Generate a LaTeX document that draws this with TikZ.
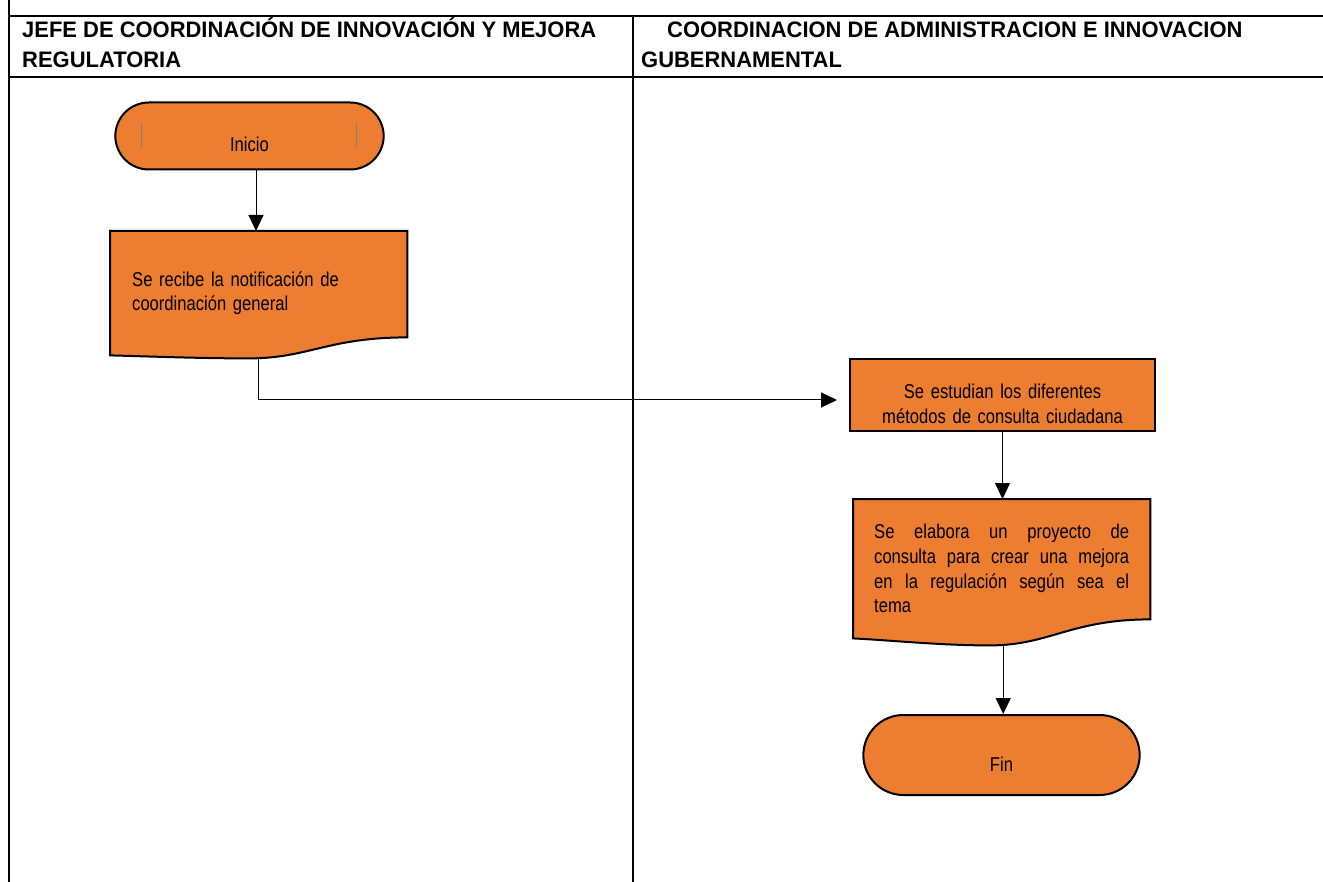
\documentclass[tikz,border=0pt]{standalone}
\usepackage{fontspec}
\setmainfont[FakeStretch=0.83]{Liberation Sans}
\newfontfamily\encabfont[FakeStretch=0.98]{Liberation Sans}
\usetikzlibrary{arrows.meta, shapes.misc, calc, backgrounds}
\definecolor{naranja}{HTML}{ED7D31}

\begin{document}
\begin{tikzpicture}[x=1pt, y=-1pt, >={Triangle[length=16pt, width=15pt]},
  encabezado/.style={font=\encabfont\bfseries\fontsize{22.4}{29.7}\selectfont, align=left, inner sep=0pt},
  texto/.style={font=\fontsize{20}{24.6}\selectfont},
  terminal/.style={rounded rectangle, draw, line width=2pt, fill=naranja, texto, text height=32pt},
  proceso/.style={rectangle, draw, line width=2pt, fill=naranja, texto, align=center, text height=32pt},
  documento/.style={rectangle, inner sep=0pt, texto},
  contorno/.style={draw, line width=2pt, fill=naranja},
  flecha/.style={->, line width=1pt}]
  \useasboundingbox (0,0) rectangle (1323,882);

  % Tabla de carriles
  \draw[line width=2pt] (9,0) -- (9,882);
  \draw[line width=2pt] (9,16) -- (1323,16);
  \draw[line width=2pt] (9,77) -- (1323,77);
  \draw[line width=2pt] (633,16) -- (633,882);
  \node[encabezado, anchor=west] (carril1) at (22,43) {JEFE DE COORDINACIÓN DE INNOVACIÓN Y MEJORA\\REGULATORIA};
  \node[encabezado, anchor=west] (carril2) at (641,45) {\hspace*{26pt}COORDINACION DE ADMINISTRACION E INNOVACION\\GUBERNAMENTAL};

  % Inicio
  \node[terminal, minimum width=275pt, minimum height=67pt] (inicio) at (249.5,136) {Inicio};
  \draw[gray, line width=0.5pt] ($(inicio.center)+(-108.5,-13)$) -- ++(0,25);
  \draw[gray, line width=0.5pt] ($(inicio.center)+(106.5,-13)$) -- ++(0,25);

  % Documento: notificacion
  \node[documento, minimum width=297pt, minimum height=124pt, text width=253pt, align=left, anchor=north west] (recibe) at (110,231) {Se recibe la notificación de\\coordinación general};
  \begin{scope}[on background layer]
    \draw[contorno] (recibe.north west) -- (recibe.north east) -- ($(recibe.south east)+(0,-18)$)
      .. controls +(-80,0) and +(60,0) .. ($(recibe.south)+(-10,3)$)
      .. controls +(-50,0) and +(40,1) .. (recibe.south west) -- cycle;
  \end{scope}

  % Proceso: metodos de consulta
  \node[proceso, minimum width=305pt, minimum height=72pt, text width=285pt] (estudian) at (1002.5,395) {Se estudian los diferentes\\métodos de consulta ciudadana};

  % Documento: proyecto de consulta
  \node[documento, minimum width=297pt, minimum height=139pt, text width=255pt, align=justify, anchor=north west] (elabora) at (853,499) {Se elabora un proyecto de\linebreak consulta para crear una mejora\linebreak en la regulación según sea el\linebreak tema};
  \begin{scope}[on background layer]
    \draw[contorno] (elabora.north west) -- (elabora.north east) -- ($(elabora.south east)+(0,-19)$)
      .. controls +(-80,0) and +(60,0) .. ($(elabora.south)+(-12,7)$)
      .. controls +(-50,0) and +(40,2) .. (elabora.south west) -- cycle;
  \end{scope}

  % Fin
  \node[terminal, minimum width=283pt, minimum height=80pt] (fin) at (1001.5,755) {Fin};

  % Conectores
  \coordinate (salida1) at ($(recibe.south)+(0,3)$);
  \coordinate (salida2) at ($(elabora.south)+(1.5,7)$);
  \draw[flecha] (inicio.south -| 256,0) -- (recibe.north -| 256,0);
  \draw[flecha, shorten >=12pt] (salida1) |- ($(estudian.west)+(0,5)$);
  \draw[flecha] (estudian.south) -- (estudian.south |- elabora.north);
  \draw[flecha] (salida2) -- (salida2 |- fin.north);
\end{tikzpicture}
\end{document}
